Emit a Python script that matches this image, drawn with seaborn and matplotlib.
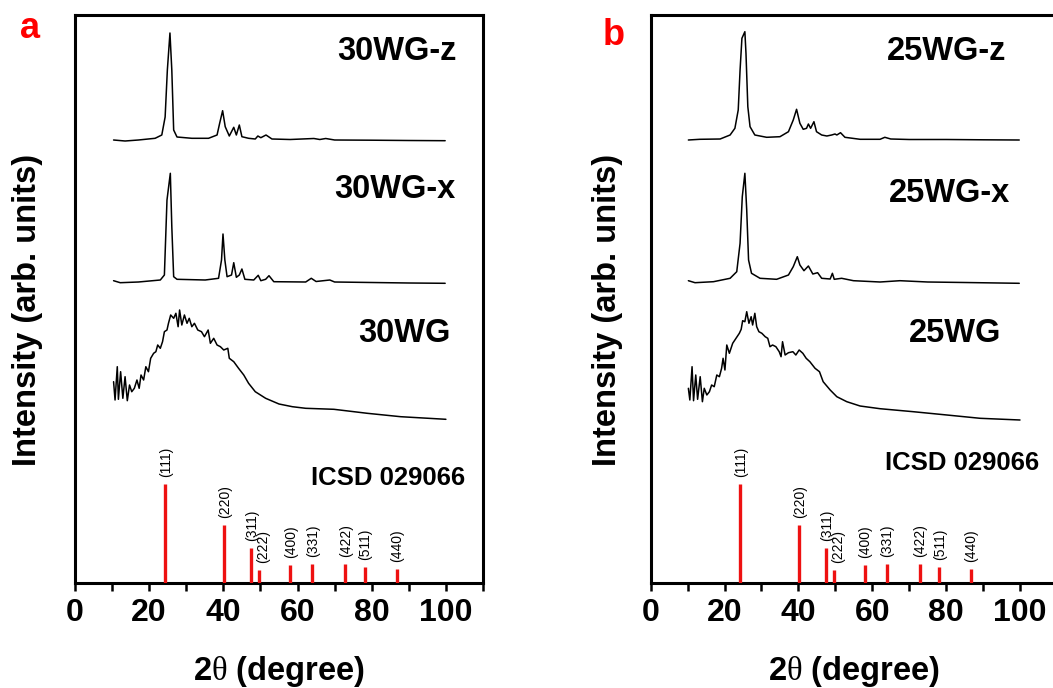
import numpy as np
import pandas as pd
import matplotlib
matplotlib.use("Agg")
import matplotlib.pyplot as plt
import seaborn as sns

# ---------------- data ----------------
# Panel a
a_z_x = [10.4, 13.5, 17.1, 21.6, 23.4, 24.3, 24.9, 25.6, 26.1, 26.6, 27.5, 31.5, 36.0, 38.3, 39.0, 39.8, 40.5,
         41.6, 42.8, 43.5, 44.3, 45.0, 46.8, 48.6, 49.3, 50.1, 51.5, 53.1, 58.0, 64.4, 66.0, 67.6, 70.0, 80.0,
         90.0, 99.8]
a_z_y = [443, 442, 443, 444.7, 448, 466, 513, 550, 513, 453, 446, 444.7, 444.7, 448, 459.7, 472.3, 456.3,
         447, 455.7, 448, 458, 446.3, 444.7, 444, 447, 445.3, 448, 444, 443.5, 444.5, 443.5, 444.5, 443, 442.8,
         442.5, 442.3]

a_x_x = [10.4, 12.2, 17.1, 23.0, 24.1, 24.8, 25.7, 26.1, 26.6, 27.5, 35.1, 38.7, 39.5, 39.9, 40.4, 41.0, 42.2,
         42.8, 43.5, 44.3, 45.0, 45.8, 48.2, 49.4, 50.1, 51.4, 52.3, 53.6, 62.2, 63.7, 65.0, 68.7, 70.0, 80.0,
         90.0, 99.8]
a_x_y = [302.3, 300.3, 301, 303, 308, 383, 409.7, 356.3, 306.3, 303.7, 303, 304.7, 323, 349, 323, 306.3, 308,
         320.3, 305.7, 308, 314, 303.7, 303, 307.7, 302.3, 303.7, 307.3, 301.3, 301, 304.7, 301.5, 303, 301,
         300.5, 300, 299.7]

a_g_x = [10.4, 10.8, 11.4, 11.7, 12.3, 12.9, 13.5, 14.1, 14.7, 15.3, 16.0, 16.7, 17.3, 17.8, 18.5, 19.1, 19.8,
         20.4, 21.2, 21.8, 22.3, 23.0, 23.6, 24.1, 24.8, 25.2, 25.8, 26.6, 27.2, 27.8, 28.2, 28.8, 29.5, 30.2,
         30.8, 31.5, 32.2, 33.1, 34.1, 34.9, 35.9, 36.5, 37.4, 38.3, 39.2, 40.1, 41.2, 41.6, 42.8, 44.1, 45.5,
         46.8, 48.6, 51.4, 55.0, 58.6, 62.2, 69.8, 78.8, 87.8, 100]
a_g_y = [201.3, 183, 216.3, 183.7, 211.3, 184.7, 206.3, 182.3, 198, 191.3, 194.7, 203, 194.7, 208, 203, 216.3,
         211.3, 224.7, 229.7, 231.3, 238, 234.7, 241.3, 251.3, 253, 259.7, 268, 264.7, 269.7, 256.3, 273, 258,
         268, 259.7, 264.7, 256.3, 259.7, 253, 251.3, 246.3, 253, 239.7, 244.7, 238, 236.3, 233, 234.7, 224.7,
         221.3, 214.7, 208, 199.7, 191.3, 184.7, 179, 176.3, 174.7, 173.7, 169.7, 166.3, 163.7]

# Panel b
b_z_x = [10.2, 13.3, 18.8, 21.5, 22.8, 23.7, 24.2, 24.7, 25.1, 25.5, 25.8, 26.3, 26.9, 28.2, 31.4, 35.0, 37.3,
         38.6, 39.5, 40.4, 41.3, 42.2, 42.7, 43.3, 44.2, 44.9, 46.3, 47.7, 49.0, 49.9, 50.4, 51.4, 52.6, 56.7,
         62.1, 63.4, 65.0, 70.0, 80.0, 90.0, 99.8]
b_z_y = [443, 443.7, 444, 448, 454.7, 473, 513, 544.7, 548, 551.3, 529.7, 476.3, 456.3, 448, 445.7, 446.3,
         451.3, 463, 473.7, 459.7, 453.7, 454.7, 459, 454.7, 461.3, 451.3, 448, 447, 448, 449, 448, 450.3, 445.7,
         443.7, 443.7, 445.7, 444, 443.5, 443.5, 443.2, 443]

b_x_x = [10.2, 12.0, 17.0, 21.5, 23.3, 24.2, 24.8, 25.5, 26.0, 26.5, 27.3, 29.6, 34.1, 37.3, 38.6, 39.7, 40.4,
         41.5, 42.7, 43.9, 45.2, 46.3, 48.6, 49.2, 49.7, 51.7, 54.9, 62.1, 67.5, 75.0, 85.0, 99.8]
b_x_y = [302.3, 300.3, 301.3, 304.7, 311.3, 339.7, 386.3, 409.7, 373, 323, 309.7, 304.7, 303.7, 308, 316.3,
         326.3, 318, 312.3, 317, 309, 310.3, 304.7, 304, 309.7, 303.7, 304.7, 302.3, 301, 302.3, 301, 300.5, 299.7]

b_g_x = [10.2, 10.6, 11.2, 11.6, 12.2, 12.7, 13.4, 14.0, 14.5, 15.2, 15.9, 16.5, 17.2, 17.9, 18.6, 19.2, 19.6,
         20.1, 20.6, 21.3, 22.2, 23.1, 24.0, 24.5, 24.9, 25.5, 26.0, 26.6, 27.2, 27.6, 28.2, 28.7, 29.3, 30.1,
         31.0, 31.7, 32.3, 33.0, 33.9, 34.8, 35.3, 35.7, 36.4, 37.3, 38.5, 39.3, 40.2, 41.2, 42.1, 43.1, 44.5,
         45.7, 46.7, 48.6, 50.4, 53.1, 56.7, 62.1, 71.1, 80.2, 89.2, 100]
b_g_y = [194.7, 183, 216.3, 182.3, 208, 183.7, 206.3, 181.3, 194.7, 188, 191.3, 198, 196.3, 208, 206.3, 214.7,
         224.7, 213, 238, 229.7, 239.7, 244.7, 249.7, 253.7, 262.3, 261.3, 271.3, 259.7, 266.3, 258, 269.7,
         256.3, 251.3, 249.7, 246.3, 244.7, 236.3, 238, 236.3, 231.3, 226.3, 241.3, 228, 230.3, 231.3, 228, 233,
         229.7, 224.7, 221.3, 214.7, 211.3, 201.3, 193, 186.3, 181.3, 177, 174.3, 171.3, 168, 164.7, 163]

# Reference pattern ICSD 029066
ref_2theta = [24.3, 40.2, 47.5, 49.7, 58.0, 63.9, 72.9, 78.1, 86.7]
ref_height = [99.5, 58, 35.5, 13, 18, 19, 19, 16, 14.5]
ref_hkl = ['(111)', '(220)', '(311)', '(222)', '(400)', '(331)', '(422)', '(511)', '(440)']

a_names = ['30WG-z', '30WG-x', '30WG']
b_names = ['25WG-z', '25WG-x', '25WG']
ref_name = 'ICSD 029066'
x_ticks = [0, 20, 40, 60, 80, 100]

# ---------------- style ----------------
sns.set_theme(style="white")
plt.rcParams['font.family'] = ['Liberation Sans', 'DejaVu Sans']
plt.rcParams['mathtext.fontset'] = 'custom'
plt.rcParams['mathtext.rm'] = 'Liberation Serif'
plt.rcParams['mathtext.it'] = 'Liberation Serif'
plt.rcParams['text.color'] = 'black'
plt.rcParams['axes.labelcolor'] = 'black'
plt.rcParams['xtick.color'] = 'black'
plt.rcParams['xtick.labelcolor'] = 'black'

W, H = 1053, 688
fig = plt.figure(figsize=(W / 100, H / 100), dpi=100)
fig.patch.set_facecolor('white')


def px_axes(left, right, top, bottom):
    return fig.add_axes([left / W, (H - bottom) / H, (right - left) / W, (bottom - top) / H])


ax_a = px_axes(75, 483, 15, 583)
ax_b = px_axes(650.7, 650.7 + 110 * 3.693, 15, 583)

panels = [
    (ax_a, [(a_z_x, a_z_y), (a_x_x, a_x_y), (a_g_x, a_g_y)], a_names,
     [(86.8, 523), (86.2, 385), (88.9, 241)], (84.5, 98), -0.078),
    (ax_b, [(b_z_x, b_z_y), (b_x_x, b_x_y), (b_g_x, b_g_y)], b_names,
     [(80.0, 523), (81.0, 381), (82.4, 241)], (84.4, 113), -0.068),
]

hkl_nudge = {'(222)': 2.5}

for ax, curves, names, name_pos, ref_pos, ylab_x in panels:
    ax.set_facecolor('white')
    for (xs, ys) in curves:
        df = pd.DataFrame({'x': xs, 'y': ys})
        sns.lineplot(data=df, x='x', y='y', ax=ax, color='black', linewidth=1.1,
                     sort=False, estimator=None)
    ax.vlines(ref_2theta, 0, ref_height, colors='#ee1111', linewidth=2.4, zorder=3)
    for xv, hv, lab in zip(ref_2theta, ref_height, ref_hkl):
        ax.annotate(lab, (xv, hv), xytext=(hkl_nudge.get(lab, 0.5), 5), textcoords='offset points',
                    rotation=90, ha='center', va='bottom', fontsize=10, color='black')
    for nm, (tx, ty) in zip(names, name_pos):
        ax.text(tx, ty, nm, ha='center', va='baseline', fontsize=23.5, fontweight='bold', color='black')
    ax.text(ref_pos[0], ref_pos[1], ref_name, ha='center', va='baseline', fontsize=18.5,
            fontweight='bold', color='black')

    ax.set_xlim(0, 110)
    ax.set_ylim(0, 568)
    ax.set_xticks(x_ticks)
    ax.set_xticks([10, 30, 50, 70, 90, 110], minor=True)
    ax.set_yticks([])
    ax.tick_params(axis='x', which='both', direction='out', bottom=True, top=False,
                   length=6, width=1.8, color='black', labelcolor='black')
    ax.tick_params(axis='x', which='major', labelsize=23, pad=5)
    for lbl in ax.get_xticklabels():
        lbl.set_fontweight('bold')
        lbl.set_color('black')
    for sp in ax.spines.values():
        sp.set_visible(True)
        sp.set_color('black')
        sp.set_linewidth(2.2)
    ax.set_xlabel(r'2$\mathrm{\theta}$ (degree)', fontsize=23.5, fontweight='bold', color='black')
    ax.xaxis.set_label_coords(0.5, -0.125)
    ax.set_ylabel('Intensity (arb. units)', fontsize=23.5, fontweight='bold', color='black')
    ax.yaxis.set_label_coords(ylab_x, 0.48)

fig.text(20 / W, (H - 38) / H, 'a', color='#ff0000', fontsize=26, fontweight='bold', va='baseline', ha='left')
fig.text(603 / W, (H - 45) / H, 'b', color='#ff0000', fontsize=26, fontweight='bold', va='baseline', ha='left')

fig.savefig('out.png', dpi=100, facecolor='white')
